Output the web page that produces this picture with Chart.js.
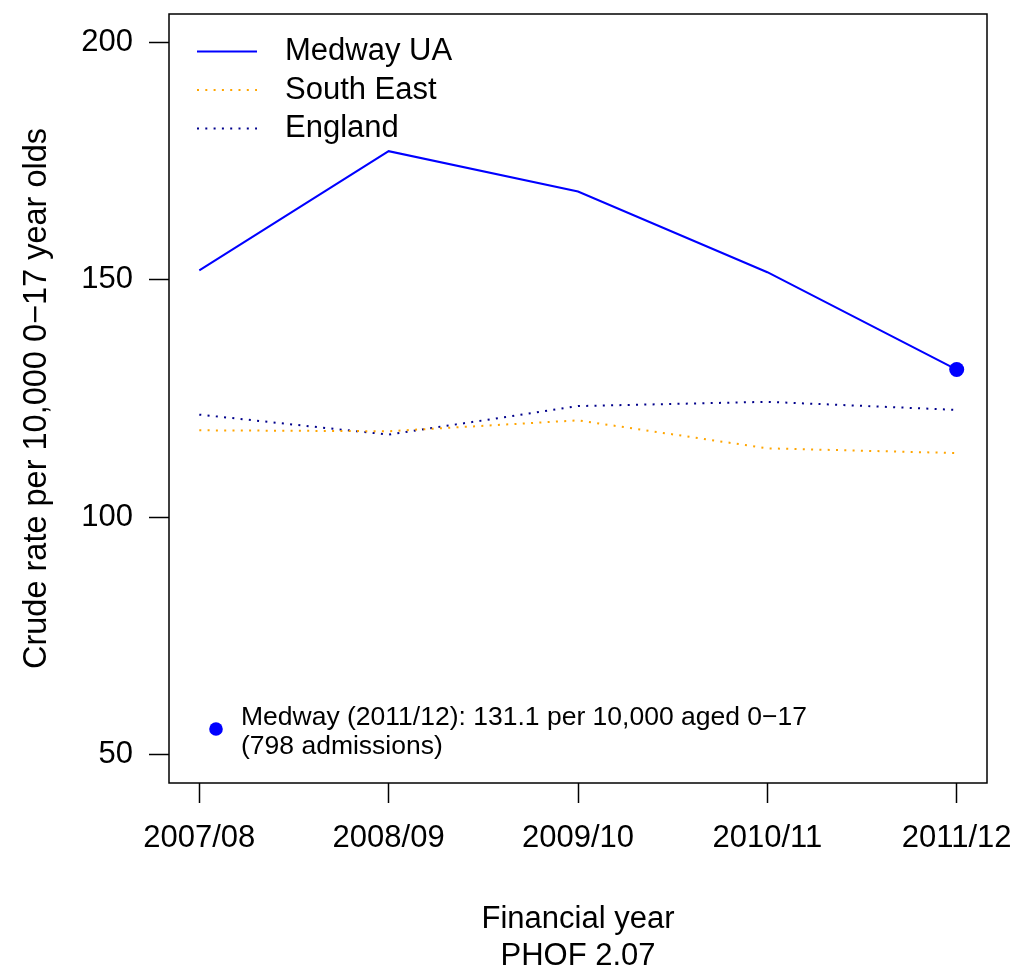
<!DOCTYPE html>
<html>
<head>
<meta charset="utf-8">
<title>PHOF 2.07</title>
<script src="https://cdn.jsdelivr.net/npm/chart.js@4/dist/chart.umd.min.js"></script>
<style>
  html, body { margin: 0; padding: 0; background: #ffffff; }
  canvas { display: block; }
</style>
</head>
<body>
<canvas id="chart" width="1019" height="973"></canvas>
<script>
// Hospital admission rates, crude rate per 10,000 aged 0-17
const years = ['2007/08', '2008/09', '2009/10', '2010/11', '2011/12'];
const medway = [152.0, 177.1, 168.6, 151.6, 131.1];
const southEast = [118.3, 118.1, 120.4, 114.5, 113.5];
const england = [121.6, 117.4, 123.4, 124.3, 122.6];
const yTicks = [50, 100, 150, 200];
const latestAdmissions = 798;

const FONT = '"Liberation Sans", Arial, Helvetica, sans-serif';

const toPoints = arr => arr.map((v, i) => ({ x: i, y: v }));

// Plot frame around the chart area
const framePlugin = {
  id: 'frame',
  afterDraw(chart) {
    const { ctx, chartArea: a } = chart;
    ctx.save();
    ctx.strokeStyle = '#000';
    ctx.lineWidth = 1.5;
    ctx.strokeRect(a.left, a.top, a.right - a.left, a.bottom - a.top);
    ctx.restore();
  }
};

// Line-sample key in the top-left corner of the plot
const keyPlugin = {
  id: 'lineKey',
  afterDatasetsDraw(chart) {
    const { ctx, chartArea: a } = chart;
    const x0 = a.left + 28, x1 = a.left + 88, tx = a.left + 116;
    const rowY = [a.top + 37.5, a.top + 76, a.top + 114.5];
    ctx.save();
    chart.data.datasets.forEach((ds, i) => {
      const y = rowY[i];
      ctx.strokeStyle = ds.borderColor;
      ctx.lineWidth = ds.borderWidth;
      ctx.setLineDash(ds.borderDash || []);
      ctx.beginPath();
      ctx.moveTo(x0, y);
      ctx.lineTo(x1, y);
      ctx.stroke();
      ctx.setLineDash([]);
      ctx.fillStyle = '#000';
      ctx.font = '31px ' + FONT;
      ctx.textAlign = 'left';
      ctx.textBaseline = 'middle';
      ctx.fillText(ds.label, tx, y);
    });
    ctx.restore();
  }
};

// Latest-value note in the bottom-left corner of the plot
const notePlugin = {
  id: 'latestNote',
  afterDatasetsDraw(chart) {
    const { ctx, chartArea: a } = chart;
    const last = medway.length - 1;
    const line1 = 'Medway (' + years[last] + '): ' + medway[last].toFixed(1) + ' per 10,000 aged 0\u221217';
    const line2 = '(' + latestAdmissions + ' admissions)';
    const cy = a.bottom - 54;
    ctx.save();
    ctx.fillStyle = '#0000ff';
    ctx.beginPath();
    ctx.arc(a.left + 47, cy, 6.8, 0, Math.PI * 2);
    ctx.fill();
    ctx.fillStyle = '#000';
    ctx.font = '26.5px ' + FONT;
    ctx.textAlign = 'left';
    ctx.textBaseline = 'middle';
    ctx.fillText(line1, a.left + 72, cy - 11);
    ctx.fillText(line2, a.left + 72, cy + 18);
    ctx.restore();
  }
};

new Chart(document.getElementById('chart'), {
  type: 'line',
  data: {
    datasets: [
      {
        label: 'Medway UA',
        data: toPoints(medway),
        borderColor: '#0000ff',
        backgroundColor: '#0000ff',
        borderWidth: 2,
        pointRadius: medway.map((v, i) => (i === medway.length - 1 ? 7.5 : 0)),
        pointBackgroundColor: '#0000ff',
        pointBorderWidth: 0,
        tension: 0,
        fill: false,
        order: 0
      },
      {
        label: 'South East',
        data: toPoints(southEast),
        borderColor: '#ffa500',
        borderWidth: 2,
        borderDash: [2, 6.3],
        pointRadius: 0,
        tension: 0,
        fill: false,
        order: 1
      },
      {
        label: 'England',
        data: toPoints(england),
        borderColor: '#00008b',
        borderWidth: 2,
        borderDash: [2, 6.3],
        pointRadius: 0,
        tension: 0,
        fill: false,
        order: 2
      }
    ]
  },
  options: {
    responsive: false,
    animation: false,
    events: [],
    layout: { padding: { left: 0, right: 32, top: 14, bottom: 0 } },
    plugins: {
      legend: { display: false },
      tooltip: { enabled: false }
    },
    scales: {
      x: {
        type: 'linear',
        position: 'bottom',
        min: -0.16,
        max: 4.16,
        afterBuildTicks(scale) {
          scale.ticks = years.map((_, i) => ({ value: i }));
        },
        afterFit(scale) {
          scale.height = 190;
          scale.paddingLeft = 0;
          scale.paddingRight = 0;
        },
        ticks: {
          autoSkip: false,
          maxRotation: 0,
          minRotation: 0,
          padding: 17,
          color: '#000',
          font: { family: FONT, size: 31 },
          callback: value => years[value]
        },
        grid: {
          drawOnChartArea: false,
          drawTicks: true,
          tickLength: 20,
          tickWidth: 1.5,
          tickColor: '#000'
        },
        border: { display: false },
        title: {
          display: true,
          text: ['Financial year', 'PHOF 2.07'],
          color: '#000',
          font: { family: FONT, size: 31, lineHeight: 1.2 },
          padding: { top: 0, bottom: -2 }
        }
      },
      y: {
        type: 'linear',
        position: 'left',
        min: 44,
        max: 206,
        afterBuildTicks(scale) {
          scale.ticks = yTicks.map(v => ({ value: v }));
        },
        afterFit(scale) {
          scale.width = 169;
          scale.paddingTop = 0;
          scale.paddingBottom = 0;
        },
        ticks: {
          padding: 16,
          color: '#000',
          font: { family: FONT, size: 31 }
        },
        grid: {
          drawOnChartArea: false,
          drawTicks: true,
          tickLength: 20,
          tickWidth: 1.5,
          tickColor: '#000'
        },
        border: { display: false },
        title: {
          display: true,
          text: 'Crude rate per 10,000 0\u221217 year olds',
          color: '#000',
          font: { family: FONT, size: 32.5, lineHeight: 1.2 },
          padding: { top: 18, bottom: 0 }
        }
      }
    }
  },
  plugins: [framePlugin, keyPlugin, notePlugin]
});
</script>
</body>
</html>
